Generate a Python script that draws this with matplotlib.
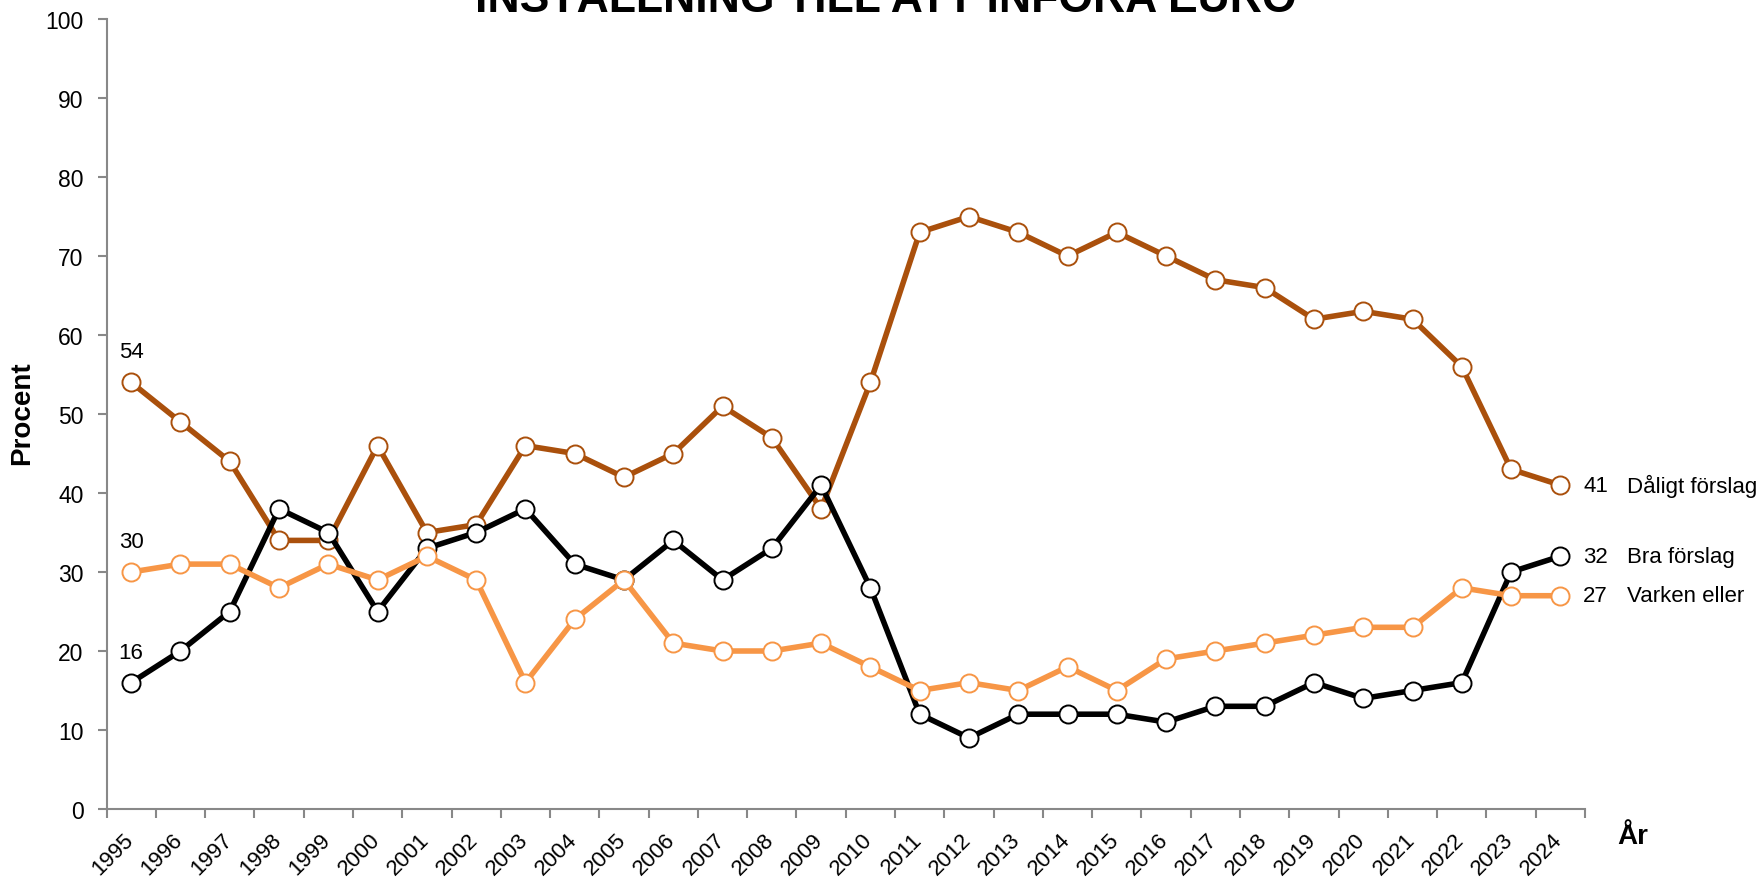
import matplotlib
matplotlib.use("Agg")
import matplotlib.pyplot as plt
from matplotlib.transforms import ScaledTranslation
import numpy as np

plt.rcParams['font.family'] = ['Liberation Sans', 'DejaVu Sans']

# survey years and series values (percent)
years = [str(y) for y in range(1995, 2025)]
daligt = [54, 49, 44, 34, 34, 46, 35, 36, 46, 45, 42, 45, 51, 47, 38,
          54, 73, 75, 73, 70, 73, 70, 67, 66, 62, 63, 62, 56, 43, 41]
bra = [16, 20, 25, 38, 35, 25, 33, 35, 38, 31, 29, 34, 29, 33, 41,
       28, 12, 9, 12, 12, 12, 11, 13, 13, 16, 14, 15, 16, 30, 32]
varken = [30, 31, 31, 28, 31, 29, 32, 29, 16, 24, 29, 21, 20, 20, 21,
          18, 15, 16, 15, 18, 15, 19, 20, 21, 22, 23, 23, 28, 27, 27]

series_names = ["Dåligt förslag", "Bra förslag", "Varken eller"]
series_colors = ["#AA500C", "#000000", "#F79646"]

title = "INSTÄLLNING TILL ATT INFÖRA EURO"

fig = plt.figure(figsize=(17.58, 8.79), dpi=100)
ax = fig.add_axes([0.0606, 0.0785, 0.841, 0.8987])

x = np.arange(len(years))
for vals, col in zip([daligt, bra, varken], series_colors):
    ax.plot(x, vals, color=col, lw=4.0, marker='o', markersize=13,
            markerfacecolor='white', markeredgecolor=col, markeredgewidth=1.4,
            zorder=3)

# start labels above first point
for vals in [daligt, bra, varken]:
    ax.annotate(str(vals[0]), (x[0], vals[0]), xytext=(0, 22),
                textcoords='offset points', ha='center', va='center', fontsize=16)

# end labels to the right of last point
for vals, name in zip([daligt, bra, varken], series_names):
    ax.annotate(str(vals[-1]), (x[-1], vals[-1]), xytext=(16.5, 0),
                textcoords='offset points', ha='left', va='center', fontsize=16,
                annotation_clip=False)
    ax.annotate(name, (x[-1], vals[-1]), xytext=(48, 0),
                textcoords='offset points', ha='left', va='center', fontsize=16,
                annotation_clip=False)

ax.set_xlim(-0.5, len(years) - 0.5)
ax.set_ylim(0, 100)
ax.set_yticks(np.arange(0, 101, 10))
ax.set_xticks(x)
ax.set_xticks(np.arange(-0.5, len(years), 1), minor=True)
ax.tick_params(axis='x', which='major', length=0, pad=14)
ax.tick_params(axis='x', which='minor', length=6.5, color='#888888', width=1.5, direction='out')
ax.tick_params(axis='y', length=6.5, color='#888888', width=1.5, labelsize=16.5, pad=10)
ax.set_xticklabels(years, rotation=45, ha='right', rotation_mode='anchor', fontsize=16)
# nudge the rotated year labels a little to the left (after tick_params, which resets transforms)
shift = ScaledTranslation(-6 / 72, 0, fig.dpi_scale_trans)
for lbl in ax.get_xticklabels():
    lbl.set_transform(lbl.get_transform() + shift)

for side in ['top', 'right']:
    ax.spines[side].set_visible(False)
for side in ['left', 'bottom']:
    ax.spines[side].set_color('#888888')
    ax.spines[side].set_linewidth(1.5)

fig.text(22 / 1758, 1 - 413 / 879, "Procent", fontsize=20, fontweight='bold',
         rotation=90, ha='center', va='center')
fig.text(1633 / 1758, 1 - 837 / 879, "År", fontsize=20, fontweight='bold',
         ha='center', va='center')

fig.text(0.504, 1 - 12 / 879, title, fontsize=32, fontweight='bold',
         ha='center', va='baseline')

fig.savefig("out.png", dpi=100)
